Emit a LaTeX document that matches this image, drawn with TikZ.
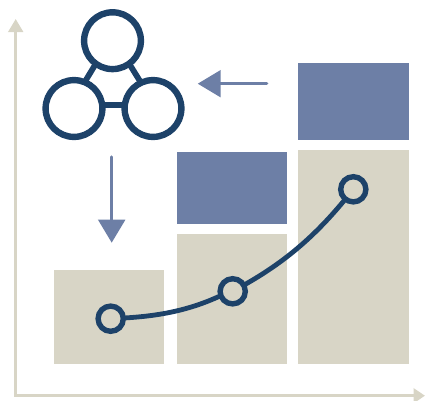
\documentclass[tikz,border=0pt]{standalone}
\usetikzlibrary{arrows.meta}
\definecolor{beige}{HTML}{D8D5C6}
\definecolor{midblue}{HTML}{6D7FA6}
\definecolor{navy}{HTML}{1D4269}
\tikzset{
  beigebox/.style={fill=beige,draw=none,inner sep=0pt,outer sep=0pt},
  bluebox/.style={fill=midblue,draw=none,inner sep=0pt,outer sep=0pt},
  bigring/.style={circle,draw=navy,line width=6.4bp,minimum size=56.8bp,inner sep=0pt,outer sep=0pt},
  smallring/.style={circle,draw=navy,line width=5.4bp,minimum size=25.2bp,inner sep=0pt,outer sep=0pt},
  ringlink/.style={draw=navy,line width=5.8bp},
  trend/.style={draw=navy,line width=4.8bp},
  axisline/.style={draw=beige,line width=2.8bp,{Triangle[length=13bp,width=14.6bp]}-{Triangle[length=11.5bp,width=14.6bp]}},
  flow/.style={draw=midblue,line width=3.3bp,line cap=round,-{Triangle[length=23bp,width=26.6bp]}},
}
\begin{document}
\begin{tikzpicture}[x=1bp,y=-1bp]
\useasboundingbox (0,0) rectangle (425,401);
% axes
\coordinate (ytip) at (15.7,19);
\coordinate (xtip) at (425,395.7);
\draw[axisline] (ytip) |- (xtip);
% bars
\node[beigebox,minimum width=110bp,minimum height=94bp] (b1) at (108.7,316.7) {};
\node[beigebox,minimum width=110bp,minimum height=129.7bp] (b2) at (231.7,298.85) {};
\node[beigebox,minimum width=110.4bp,minimum height=213.4bp] (b3) at (353.5,257) {};
\node[bluebox,minimum width=110bp,minimum height=72bp] (u2) at (231.7,188) {};
\node[bluebox,minimum width=110.4bp,minimum height=76.7bp] (u3) at (353.5,101.65) {};
% network icon
\node[bigring] (top) at (112.5,40.7) {};
\node[bigring] (left) at (74,108.5) {};
\node[bigring] (right) at (153,108.5) {};
\draw[ringlink] (left.7) -- (right.173);
\draw[ringlink] (top.234) -- (left.68);
\draw[ringlink] (top.306) -- (right.115);
% flow arrows
\coordinate (hstart) at (266.7,83.7);
\coordinate (hend) at (197.7,83.7);
\coordinate (vstart) at (111.7,157);
\coordinate (vend) at (111.7,242.7);
\draw[flow] (hstart) -- (hend);
\draw[flow] (vstart) -- (vend);
% trend
\node[smallring] (p1) at (110.7,318.7) {};
\node[smallring] (p2) at (232.7,291.3) {};
\node[smallring] (p3) at (353.3,189.3) {};
\draw[trend] (p1.3) .. controls (160,316) and (190,310) .. (p2.200);
\draw[trend] (p2.29) .. controls (285,262) and (315,236) .. (p3.231);
\end{tikzpicture}
\end{document}
